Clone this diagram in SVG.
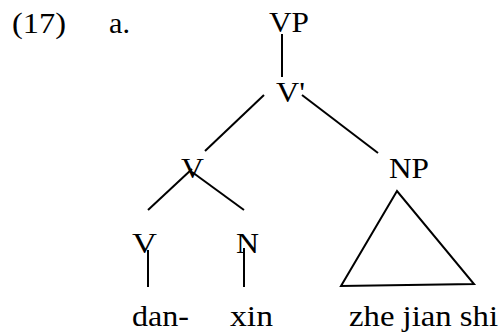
<svg xmlns="http://www.w3.org/2000/svg" width="499" height="335" viewBox="0 0 499 335">
<style>
text{font-family:"Liberation Serif","Times New Roman",serif;font-size:30px;fill:#000}
line,polygon{stroke:#000;stroke-width:2;fill:none}
</style>
<rect width="499" height="335" fill="#fff"/>
<g id="label"><text x="12" y="33" textLength="54" lengthAdjust="spacingAndGlyphs">(17)</text><text x="109" y="33" textLength="21" lengthAdjust="spacingAndGlyphs">a.</text></g>
<g id="VP"><text x="269" y="32" textLength="40" lengthAdjust="spacingAndGlyphs">VP</text></g>
<g id="Vbar"><text x="276" y="102" textLength="29" lengthAdjust="spacingAndGlyphs">V'</text></g>
<g id="V1"><text x="181" y="178" textLength="23" lengthAdjust="spacingAndGlyphs">V</text></g>
<g id="NP"><text x="389" y="178" textLength="40" lengthAdjust="spacingAndGlyphs">NP</text></g>
<g id="V2"><text x="132" y="253" textLength="25" lengthAdjust="spacingAndGlyphs">V</text></g>
<g id="N"><text x="236" y="253" textLength="23" lengthAdjust="spacingAndGlyphs">N</text></g>
<g id="dan"><text x="132" y="326" textLength="57" lengthAdjust="spacingAndGlyphs">dan-</text></g>
<g id="xin"><text x="230" y="326" textLength="43" lengthAdjust="spacingAndGlyphs">xin</text></g>
<g id="zhe"><text x="349" y="326" textLength="149" lengthAdjust="spacingAndGlyphs">zhe jian shi</text></g>
<g id="connectors">
<line x1="282" y1="34" x2="282" y2="77"/>
<line x1="264" y1="95" x2="205" y2="151"/>
<line x1="302" y1="95" x2="378" y2="153"/>
<line x1="192" y1="169" x2="148" y2="210"/>
<line x1="192" y1="172" x2="244" y2="210"/>
<line x1="148" y1="250" x2="148" y2="287"/>
<line x1="244" y1="248" x2="244" y2="287"/>
<polygon points="397,191 341,286 474,284"/>
</g>
</svg>
